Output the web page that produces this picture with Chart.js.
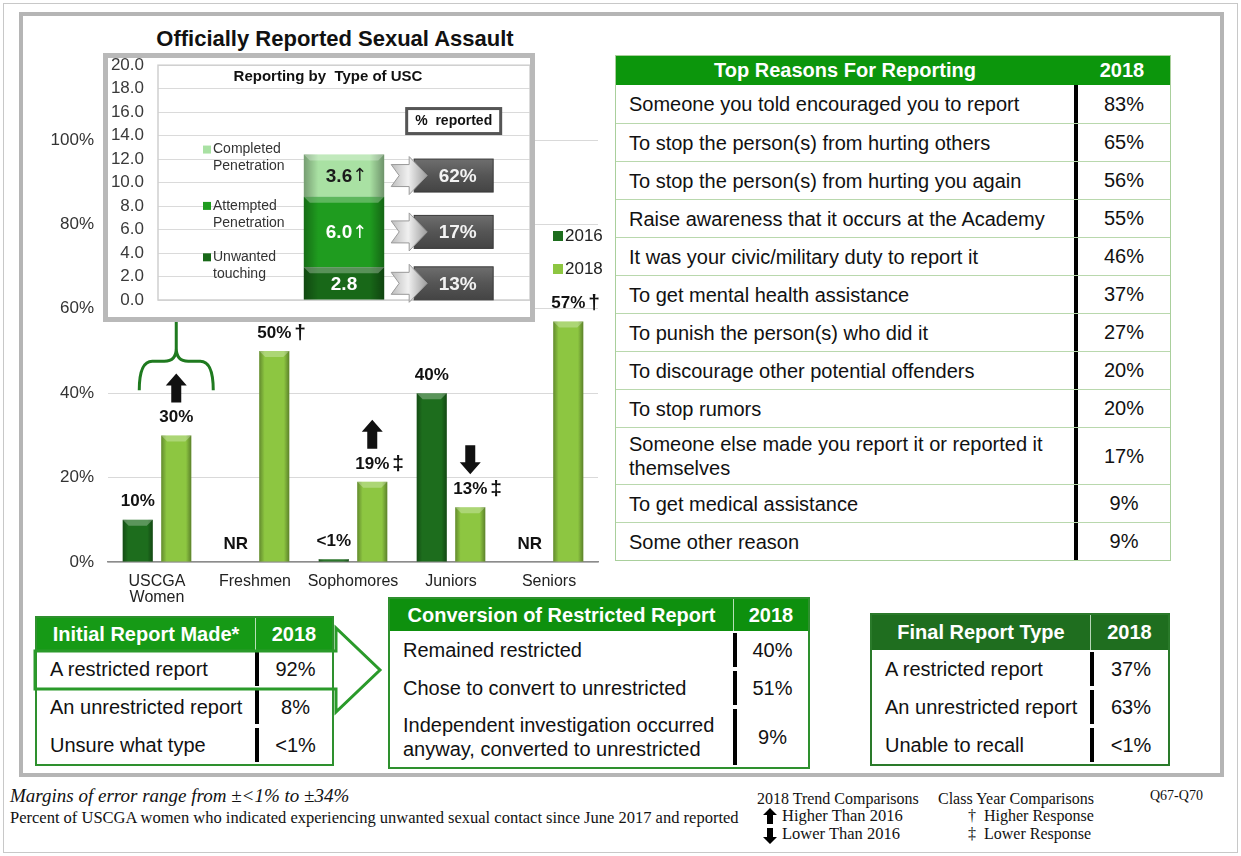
<!DOCTYPE html>
<html>
<head>
<meta charset="utf-8">
<script src="https://cdn.jsdelivr.net/npm/chart.js"></script>
<style>
  body { margin: 0; width: 1241px; height: 856px; overflow: hidden; background: #fff;
         font-family: "Liberation Sans", Arial, sans-serif; position: relative; }
  .abs { position: absolute; }
  .frame-out { left: 3px; top: 3px; width: 1235px; height: 850px; border: 1px solid #c8c8c8; box-sizing: border-box; }
  .frame-in { left: 19px; top: 12px; width: 1205px; height: 765px; border: 4px solid #b5b5b5; box-sizing: border-box; }
  .inset { left: 103px; top: 53px; width: 432px; height: 269px; border: 5px solid #b9b9b9; background: #fff; box-sizing: border-box; }
  .tbl { position: absolute; background: #fff; box-sizing: border-box; border-style: solid; }
  .th { display: flex; align-items: stretch; color: #fff; font-weight: bold; font-size: 20px; }
  .th div { display: flex; align-items: center; justify-content: center; }
  .th .c2 { flex: 1; }
  .tr { display: flex; align-items: center; font-size: 20px; color: #111; box-sizing: border-box; }
  .tr .c1 { padding-left: 13px; box-sizing: border-box; white-space: pre-line; line-height: 1.2; }
  .tr .bar { width: 4px; align-self: stretch; background: #000; }
  .tr .c2 { flex: 1; text-align: center; }
  .fn { position: absolute; font-family: "Liberation Serif", "Times New Roman", serif; color: #111; white-space: nowrap; }
  .leg { position: absolute; font-size: 17px; color: #222; }
  .leg span { display: inline-block; width: 10px; height: 10px; margin-right: 2px; }
  #arrowSvg { z-index: 10; pointer-events: none; }
</style>
</head>
<body>
<div class="abs frame-out"></div>
<div class="abs frame-in"></div>

<div class="abs" style="left:120px;top:26px;width:430px;text-align:center;font-weight:bold;font-size:22px;color:#111">Officially Reported Sexual Assault</div>

<canvas id="main" class="abs" width="560" height="484" style="left:40px;top:128px"></canvas>
<div id="legend"></div>

<div class="abs inset"></div>
<canvas id="inset" class="abs" width="422" height="263" style="left:108px;top:55px"></canvas>
<div class="abs" style="left:158px;top:67px;width:340px;text-align:center;font-weight:bold;font-size:15px;color:#111">Reporting by&nbsp; Type of USC</div>

<svg class="abs" style="left:0;top:0" width="1241" height="856" id="arrowSvg"></svg>

<script>
// ---- main chart data ----
const categories = [['USCGA', 'Women'], 'Freshmen', 'Sophomores', 'Juniors', 'Seniors'];
const years = ['2016', '2018'];
const values2016 = [10, null, 0.7, 40, null];
const labels2016 = ['10%', 'NR', '<1%', '40%', 'NR'];
const values2018 = [30, 50, 19, 13, 57];
const labels2018 = ['30%', '50%', '19%', '13%', '57%'];
const classMarks2018 = ['', '†', '‡', '‡', '†'];
const trend2018 = ['up', '', 'up', 'down', ''];
const yTicksMain = [0, 20, 40, 60, 80, 100];

// ---- inset: reporting by type of USC ----
const uscTypes = [['Unwanted', 'touching'], ['Attempted', 'Penetration'], ['Completed', 'Penetration']];
const uscValues = [2.8, 6.0, 3.6];
const uscTrend = ['', '↑', '↑'];
const uscReported = ['13%', '17%', '62%'];
const yTicksInset = [0, 2, 4, 6, 8, 10, 12, 14, 16, 18, 20];

// ---- tables ----
const reasons = [
  'Someone you told encouraged you to report',
  'To stop the person(s) from hurting others',
  'To stop the person(s) from hurting you again',
  'Raise awareness that it occurs at the Academy',
  'It was your civic/military duty to report it',
  'To get mental health assistance',
  'To punish the person(s) who did it',
  'To discourage other potential offenders',
  'To stop rumors',
  'Someone else made you report it or reported it\nthemselves',
  'To get medical assistance',
  'Some other reason'
];
const reasonValues = ['83%', '65%', '56%', '55%', '46%', '37%', '27%', '20%', '20%', '17%', '9%', '9%'];
const initialTypes = ['A restricted report', 'An unrestricted report', 'Unsure what type'];
const initialValues = ['92%', '8%', '<1%'];
const conversionTypes = ['Remained restricted', 'Chose to convert to unrestricted',
  'Independent investigation occurred\nanyway, converted to unrestricted'];
const conversionValues = ['40%', '51%', '9%'];
const finalTypes = ['A restricted report', 'An unrestricted report', 'Unable to recall'];
const finalValues = ['37%', '63%', '<1%'];

const colors2016 = '#1d6d1d';
const colors2018 = '#8dc641';
const uscColors = ['#186818', '#1f9c1f', '#a9e1a3'];

Chart.defaults.font.family = '"Liberation Sans", Arial, sans-serif';

// bevel look for bars
const bevel = {
  id: 'bevel',
  afterDatasetsDraw(chart) {
    const c = chart.ctx;
    chart.data.datasets.forEach((ds, i) => {
      chart.getDatasetMeta(i).data.forEach((bar, j) => {
        if (ds.data[j] == null) return;
        const p = bar.getProps(['x', 'y', 'base', 'width'], true);
        const l = p.x - p.width / 2, r = p.x + p.width / 2;
        const top = Math.min(p.y, p.base), h = Math.abs(p.base - p.y);
        const g = c.createLinearGradient(l, 0, r, 0);
        g.addColorStop(0, 'rgba(0,0,0,0.30)');
        g.addColorStop(0.18, 'rgba(0,0,0,0)');
        g.addColorStop(0.82, 'rgba(0,0,0,0)');
        g.addColorStop(1, 'rgba(0,0,0,0.35)');
        c.save();
        c.fillStyle = g;
        c.fillRect(l, top, p.width, h);
        const b = Math.min(6, h / 2);
        c.fillStyle = 'rgba(255,255,255,0.28)';
        c.beginPath();
        c.moveTo(l, top); c.lineTo(r, top); c.lineTo(r - b, top + b); c.lineTo(l + b, top + b);
        c.closePath(); c.fill();
        c.restore();
      });
    });
  }
};

const mainLabels = {
  id: 'mainLabels',
  afterDatasetsDraw(chart) {
    const c = chart.ctx;
    const y0 = chart.scales.y.getPixelForValue(0);
    const m0 = chart.getDatasetMeta(0), m1 = chart.getDatasetMeta(1);
    c.save();
    c.fillStyle = '#111';
    c.textBaseline = 'middle';
    m0.data.forEach((bar, j) => {
      const top = values2016[j] == null ? y0 : bar.y;
      c.font = 'bold 17px "Liberation Sans", Arial';
      c.textAlign = 'center';
      c.fillText(labels2016[j], bar.x, top - 18);
    });
    m1.data.forEach((bar, j) => {
      const ly = bar.y - 18;
      c.font = 'bold 17px "Liberation Sans", Arial';
      c.textAlign = 'center';
      c.fillText(labels2018[j], bar.x, ly);
      if (classMarks2018[j]) {
        const w = c.measureText(labels2018[j]).width;
        c.font = 'bold 21px "Liberation Sans", Arial';
        c.textAlign = 'left';
        c.fillText(classMarks2018[j], bar.x + w / 2 + 3, ly);
      }
      // trend arrows
      if (trend2018[j]) {
        const x = bar.x, t = ly - 44, b = ly - 15;
        c.beginPath();
        if (trend2018[j] === 'up') {
          c.moveTo(x, t); c.lineTo(x + 10.5, t + 12); c.lineTo(x + 5, t + 12); c.lineTo(x + 5, b);
          c.lineTo(x - 5, b); c.lineTo(x - 5, t + 12); c.lineTo(x - 10.5, t + 12);
        } else {
          c.moveTo(x, b); c.lineTo(x + 10.5, b - 12); c.lineTo(x + 5, b - 12); c.lineTo(x + 5, t);
          c.lineTo(x - 5, t); c.lineTo(x - 5, b - 12); c.lineTo(x - 10.5, b - 12);
        }
        c.closePath();
        c.fill();
      }
    });
    // curly brace pointing to the inset, over the USCGA 2018 bar
    const bx = m1.data[0].x;
    const yEnd = chart.scales.y.getPixelForValue(40) - 3;
    const yArm = yEnd - 29;
    const L = bx - 37, R = bx + 37;
    c.strokeStyle = '#1f7a1f';
    c.lineWidth = 3;
    c.beginPath();
    c.moveTo(L, yEnd);
    c.quadraticCurveTo(L, yArm, L + 13, yArm);
    c.lineTo(bx - 12, yArm);
    c.quadraticCurveTo(bx, yArm, bx, yArm - 13);
    c.lineTo(bx, chart.scales.y.getPixelForValue(60) + 8);
    c.moveTo(bx, yArm - 13);
    c.quadraticCurveTo(bx, yArm, bx + 12, yArm);
    c.lineTo(R - 13, yArm);
    c.quadraticCurveTo(R, yArm, R, yEnd);
    c.stroke();
    c.restore();
  }
};

new Chart(document.getElementById('main'), {
  type: 'bar',
  data: {
    labels: categories,
    datasets: [
      { label: years[0], data: values2016, backgroundColor: colors2016 },
      { label: years[1], data: values2018, backgroundColor: colors2018 }
    ]
  },
  options: {
    responsive: false,
    animation: false,
    layout: { padding: { top: 12, right: 2 } },
    datasets: { bar: { categoryPercentage: 0.786, barPercentage: 0.78 } },
    plugins: { legend: { display: false }, tooltip: { enabled: false } },
    scales: {
      x: {
        grid: { display: false, drawTicks: false },
        border: { color: '#8c8c8c', width: 1.5 },
        ticks: { font: { size: 16, lineHeight: 1 }, color: '#222', padding: 12, maxRotation: 0, autoSkip: false },
        afterFit(s) { s.height = 50; }
      },
      y: {
        min: 0, max: 100,
        afterBuildTicks(s) { s.ticks = yTicksMain.map(v => ({ value: v })); },
        ticks: { callback: v => v + '%', font: { size: 17 }, color: '#333', padding: 0 },
        grid: { color: '#d9d9d9', drawTicks: true, tickLength: 14, tickColor: 'rgba(0,0,0,0)' },
        border: { display: false },
        afterFit(s) { s.width = 68; }
      }
    }
  },
  plugins: [bevel, mainLabels]
});

// legend 2016 / 2018
document.getElementById('legend').innerHTML =
  `<div class="leg" style="left:553px;top:226px"><span style="background:${colors2016}"></span>${years[0]}</div>` +
  `<div class="leg" style="left:553px;top:259px"><span style="background:${colors2018}"></span>${years[1]}</div>`;

// ---- inset chart ----
const insetDecor = {
  id: 'insetDecor',
  beforeDatasetsDraw(chart) {
    const a = chart.chartArea, c = chart.ctx;
    c.save();
    c.strokeStyle = '#cfcfcf';
    c.lineWidth = 1.5;
    c.strokeRect(a.left, a.top, a.right - a.left, a.bottom - a.top);
    c.restore();
  },
  afterDatasetsDraw(chart) {
    const c = chart.ctx;
    c.save();
    c.textBaseline = 'middle';
    let topCenter = null, boxX = 0;
    chart.data.datasets.forEach((ds, i) => {
      const bar = chart.getDatasetMeta(i).data[0];
      const p = bar.getProps(['x', 'y', 'base', 'width'], true);
      const cy = (p.y + p.base) / 2;
      const right = p.x + p.width / 2;
      // value inside segment
      c.font = 'bold 19px "Liberation Sans", Arial';
      c.textAlign = 'center';
      c.fillStyle = i === 2 ? '#1a1a1a' : '#fff';
      const txt = uscValues[i].toFixed(1);
      const w = c.measureText(txt).width;
      c.fillText(txt, p.x - (uscTrend[i] ? 5 : 0), cy + 1);
      if (uscTrend[i]) {
        c.font = '18px "DejaVu Sans", sans-serif';
        c.textAlign = 'left';
        c.fillText(uscTrend[i], p.x - 5 + w / 2, cy + 1);
      }
      // dark "% reported" box
      boxX = right + 30;
      const bw = 79, bh = 33;
      const g = c.createLinearGradient(0, cy - bh / 2, 0, cy + bh / 2);
      g.addColorStop(0, '#6e6e6e'); g.addColorStop(0.5, '#555'); g.addColorStop(1, '#444');
      c.fillStyle = g;
      c.fillRect(boxX, cy - bh / 2, bw, bh);
      c.strokeStyle = '#3a3a3a';
      c.lineWidth = 1;
      c.strokeRect(boxX, cy - bh / 2, bw, bh);
      c.font = 'bold 19px "Liberation Sans", Arial';
      c.textAlign = 'center';
      c.fillStyle = '#f2f2f2';
      c.fillText(uscReported[i], boxX + bw / 2 + 4, cy + 1);
      // chevron
      const x0 = right + 7;
      const cg = c.createLinearGradient(x0, 0, x0 + 34, 0);
      cg.addColorStop(0, '#bdbdbd'); cg.addColorStop(0.5, '#f0f0f0'); cg.addColorStop(1, '#a5a5a5');
      c.fillStyle = cg;
      c.beginPath();
      c.moveTo(x0, cy - 11); c.lineTo(x0 + 18, cy - 11); c.lineTo(x0 + 18, cy - 19);
      c.lineTo(x0 + 36, cy); c.lineTo(x0 + 18, cy + 19); c.lineTo(x0 + 18, cy + 11);
      c.lineTo(x0, cy + 11); c.lineTo(x0 + 8, cy);
      c.closePath();
      c.fill();
      c.strokeStyle = '#9a9a9a';
      c.stroke();
      // legend entry to the left
      const lx = chart.chartArea.left + 45, ly = cy - 26;
      c.fillStyle = uscColors[i];
      c.fillRect(lx, ly - 4, 8, 8);
      c.font = '14px "Liberation Sans", Arial';
      c.textAlign = 'left';
      c.fillStyle = '#333';
      c.fillText(uscTypes[i][0], lx + 10, ly);
      c.fillText(uscTypes[i][1], lx + 10, ly + 17);
      if (i === 2) topCenter = cy;
    });
    // "% reported" heading box
    const hx = boxX + 39.5 - 47, hy = topCenter - 67;
    c.fillStyle = '#fff';
    c.fillRect(hx, hy, 94, 25);
    c.strokeStyle = '#555';
    c.lineWidth = 3;
    c.strokeRect(hx, hy, 94, 25);
    c.fillStyle = '#111';
    c.font = 'bold 14px "Liberation Sans", Arial';
    c.textAlign = 'center';
    c.fillText('%  reported', hx + 47, hy + 13);
    c.restore();
  }
};

new Chart(document.getElementById('inset'), {
  type: 'bar',
  data: {
    labels: [''],
    datasets: uscTypes.map((t, i) => ({
      label: t.join(' '), data: [uscValues[i]], backgroundColor: uscColors[i]
    }))
  },
  options: {
    responsive: false,
    animation: false,
    layout: { padding: { top: 0, bottom: 18, right: 0 } },
    datasets: { bar: { categoryPercentage: 0.24, barPercentage: 0.9 } },
    plugins: { legend: { display: false }, tooltip: { enabled: false } },
    scales: {
      x: { display: false, stacked: true },
      y: {
        stacked: true, min: 0, max: 20,
        afterBuildTicks(s) { s.ticks = yTicksInset.map(v => ({ value: v })); },
        ticks: { callback: v => v.toFixed(1), font: { size: 17 }, color: '#3a3a3a', padding: 0 },
        grid: { color: '#dadada', drawTicks: true, tickLength: 14, tickColor: 'rgba(0,0,0,0)' },
        border: { display: false },
        afterFit(s) { s.width = 50; }
      }
    }
  },
  plugins: [bevel, insetDecor]
});

// ---- tables ----
function table(cfg) {
  const t = document.createElement('div');
  t.className = 'tbl';
  Object.assign(t.style, {
    left: cfg.x + 'px', top: cfg.y + 'px', width: cfg.w + 'px',
    borderColor: cfg.border, borderWidth: cfg.bw + 'px'
  });
  let html = `<div class="th" style="height:${cfg.headH}px;background:${cfg.headBg}">` +
    `<div style="width:${cfg.col1}px">${cfg.title}</div>` +
    `<div class="c2" style="border-left:${cfg.headSep}">2018</div></div>`;
  cfg.labels.forEach((lab, i) => {
    const h = lab.includes('\n') ? cfg.rowH2 : cfg.rowH;
    html += `<div class="tr" style="height:${h}px;border-top:${i ? cfg.rowLine : 'none'}">` +
      `<div class="c1" style="width:${cfg.col1}px">${lab.replace(/</g, '&lt;')}</div>` +
      `<div class="bar" style="margin:${cfg.barGap}px 0"></div>` +
      `<div class="c2">${cfg.values[i].replace(/</g, '&lt;')}</div></div>`;
  });
  t.innerHTML = html;
  document.body.appendChild(t);
}

table({ x: 615, y: 55, w: 556, bw: 1.5, border: '#a9cf9c', headH: 29, headBg: '#0c960c', headSep: 'none',
  col1: 458, title: 'Top Reasons For Reporting', labels: reasons, values: reasonValues,
  rowH: 38, rowH2: 57, rowLine: '1px solid #b9d8ad', barGap: 0 });

table({ x: 35, y: 616, w: 299, bw: 2, border: '#2e902e', headH: 32, headBg: '#169a16', headSep: '1.5px solid #b6e0b6',
  col1: 218, title: 'Initial Report Made*', labels: initialTypes, values: initialValues,
  rowH: 38, rowH2: 60, rowLine: 'none', barGap: 2 });

table({ x: 388, y: 597, w: 422, bw: 2, border: '#2e902e', headH: 32, headBg: '#0e900e', headSep: '1.5px solid #b6e0b6',
  col1: 343, title: 'Conversion of Restricted Report', labels: conversionTypes, values: conversionValues,
  rowH: 38, rowH2: 60, rowLine: 'none', barGap: 2 });

table({ x: 870, y: 613, w: 300, bw: 2, border: '#2a7a2a', headH: 35, headBg: '#1f6e1f', headSep: '1.5px solid #b6d6b6',
  col1: 218, title: 'Final Report Type', labels: finalTypes, values: finalValues,
  rowH: 38, rowH2: 60, rowLine: 'none', barGap: 2 });

// big outlined arrow from the restricted-report row to the conversion table
document.getElementById('arrowSvg').innerHTML =
  '<polygon points="35,651 336,651 336,628 380,670 336,712 336,689 35,689" fill="none" stroke="#2a9a2a" stroke-width="3"/>';
</script>

<div class="fn" style="left:10px;top:785px;font-size:19px;font-style:italic">Margins of error range from ±&lt;1% to ±34%</div>
<div class="fn" style="left:10px;top:808px;font-size:16.5px">Percent of USCGA women who indicated experiencing unwanted sexual contact since June 2017 and reported</div>
<div class="fn" style="left:757px;top:790px;font-size:16px">2018 Trend Comparisons</div>
<svg class="abs" style="left:763px;top:808px" width="14" height="36">
  <polygon points="7,0 14,7 10,7 10,16 4,16 4,7 0,7" fill="#000"/>
  <polygon points="7,36 14,29 10,29 10,20 4,20 4,29 0,29" fill="#000"/>
</svg>
<div class="fn" style="left:782px;top:806px;font-size:16.5px">Higher Than 2016</div>
<div class="fn" style="left:782px;top:824px;font-size:16.5px">Lower Than 2016</div>
<div class="fn" style="left:938px;top:790px;font-size:16px">Class Year Comparisons</div>
<div class="fn" style="left:968px;top:807px;font-size:16px">†&nbsp; Higher Response</div>
<div class="fn" style="left:968px;top:825px;font-size:16px">‡&nbsp; Lower Response</div>
<div class="fn" style="left:1150px;top:788px;font-size:14px">Q67-Q70</div>
</body>
</html>
